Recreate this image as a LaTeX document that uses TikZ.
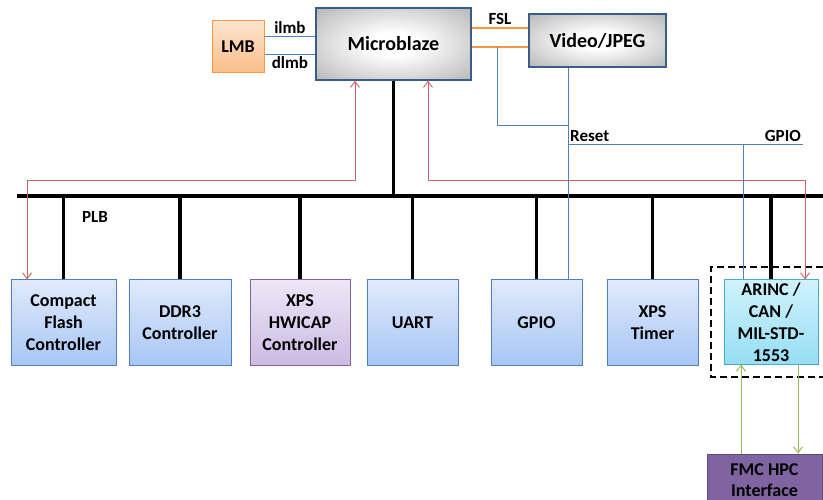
\documentclass[tikz,border=0pt]{standalone}
\usepackage{fontspec}
\setmainfont{Carlito}
\usetikzlibrary{arrows.meta}

\definecolor{ipline}{RGB}{79,129,189}
\definecolor{iptop}{RGB}{224,234,252}
\definecolor{ipbot}{RGB}{168,198,246}
\definecolor{hwline}{RGB}{128,100,162}
\definecolor{hwtop}{RGB}{238,230,248}
\definecolor{hwbot}{RGB}{204,186,226}
\definecolor{arline}{RGB}{75,172,198}
\definecolor{artop}{RGB}{208,242,252}
\definecolor{arbot}{RGB}{150,222,244}
\definecolor{lmbline}{RGB}{247,150,70}
\definecolor{lmbtop}{RGB}{253,228,206}
\definecolor{lmbbot}{RGB}{250,188,136}
\definecolor{cpuline}{RGB}{56,93,138}
\definecolor{sigblue}{RGB}{79,129,189}
\definecolor{ctlred}{RGB}{210,96,96}
\definecolor{lnkgreen}{RGB}{155,187,89}
\definecolor{fmcfill}{RGB}{128,100,162}
\definecolor{fmcline}{RGB}{96,74,123}

\pgfdeclareradialshading{cpushade}{\pgfpoint{0bp}{0bp}}{color(0bp)=(white);color(8bp)=(white);color(45bp)=(black!38);color(60bp)=(black!50);color(100bp)=(black!50)}

\begin{document}
\begin{tikzpicture}[x=1pt,y=-1pt,
  ip/.style={draw=ipline,line width=1pt,top color=iptop,bottom color=ipbot,
    minimum height=85,inner sep=0pt,align=center,
    font=\bfseries\fontsize{18}{22}\selectfont},
  cpu/.style={draw=cpuline,line width=1.4pt,shading=cpushade,inner sep=0pt,
    font=\bfseries\fontsize{20}{24}\selectfont},
  lbl/.style={font=\bfseries\fontsize{17}{20}\selectfont,inner sep=2pt},
  bus/.style={line width=4pt},
  drop/.style={line width=3.5pt},
  fsl/.style={draw=lmbline,line width=2.5pt},
  sig/.style={draw=sigblue,line width=0.9pt},
  ctl/.style={draw=ctlred,line width=0.9pt,{Straight Barb[length=6pt,width=9pt]}-{Straight Barb[length=6pt,width=9pt]}},
  lnk/.style={draw=lnkgreen,line width=1pt,-{Straight Barb[length=6pt,width=9pt]}}]
  \useasboundingbox (0,0) rectangle (823,500);

  % processor side
  \node [cpu,minimum width=155,minimum height=72] (mb) at (393.5,44) {Microblaze};
  \node [cpu,minimum width=137,minimum height=53] (video) at (597.5,40.5) {Video/JPEG};
  \node [draw=lmbline,line width=1pt,top color=lmbtop,bottom color=lmbbot,
    minimum width=52,minimum height=52,inner sep=0pt,
    font=\bfseries\fontsize{18}{22}\selectfont] (lmb) at (238,47) {LMB};

  \coordinate (ilmb) at (0,36);
  \coordinate (dlmb) at (0,54);
  \draw [sig] (lmb.east |- ilmb) -- node [lbl,above] {ilmb} (mb.west |- ilmb);
  \draw [sig] (lmb.east |- dlmb) -- node [lbl,below] {dlmb} (mb.west |- dlmb);

  \coordinate (fslA) at (0,28);
  \coordinate (fslB) at (0,47);
  \draw [fsl] (mb.east |- fslA) -- node [lbl,above,text=black] {FSL} (video.west |- fslA);
  \draw [fsl] (mb.east |- fslB) -- (video.west |- fslB);

  % peripherals
  \node [ip,minimum width=105] (cf)     at (63.5,322.5)  {Compact\\Flash\\Controller};
  \node [ip,minimum width=102] (ddr)    at (180,322.5)   {DDR3\\Controller};
  \node [ip,minimum width=100,draw=hwline,top color=hwtop,bottom color=hwbot]
                               (hwicap) at (300,322.5)   {XPS\\HWICAP\\Controller};
  \node [ip,minimum width=91]  (uart)   at (412.5,322.5) {UART};
  \node [ip,minimum width=91]  (gpio)   at (536.5,322.5) {GPIO};
  \node [ip,minimum width=91]  (timer)  at (652.5,322.5) {XPS\\Timer};
  \node [ip,minimum width=94,minimum height=84,draw=arline,top color=artop,bottom color=arbot]
                               (arinc)  at (771,322)     {ARINC /\\CAN /\\MIL-STD-\\1553};
  \node [draw=fmcline,line width=1pt,fill=fmcfill,minimum width=115,minimum height=52,
    inner sep=0pt,align=center,font=\bfseries\fontsize{18}{21}\selectfont] (fmc) at (764.5,480)
    {FMC HPC\\Interface};

  \draw [dashed,line width=2.5pt,dash pattern=on 7pt off 4pt] (823,267) -| (711,377) -- (823,377);

  % PLB bus
  \coordinate (busL) at (17,196);
  \coordinate (busR) at (823,196);
  \draw [bus] (busL) -- (busR);
  \node [lbl] (plb) at (95,217) {PLB};
  \draw [drop] (mb.south) -- (mb.south |- busL);
  \foreach \n in {cf,ddr,hwicap,uart,gpio,timer,arinc}
    \draw [drop] (\n.north) -- (\n.north |- busL);

  % reset / gpio wiring
  \coordinate (tap) at (497,47);
  \coordinate (join) at (568,125);
  \coordinate [label={[lbl]above right:Reset}] (rst) at (568,144);
  \coordinate [label={[lbl]above left:GPIO}] (gpioEnd) at (803,144);
  \coordinate (arincTap) at (743,144);
  \draw [sig] (tap) |- (join);
  \draw [sig] (video.south -| rst) -- (gpio.north -| rst);
  \draw [sig] (rst) -- (gpioEnd);
  \draw [sig] (arincTap) -- (arinc.north -| arincTap);

  % interrupt lines
  \coordinate (irqL) at (355,180);
  \coordinate (cfIn) at (27,180);
  \coordinate (irqR) at (428,180);
  \coordinate (arincIn) at (805,180);
  \draw [ctl] (mb.south -| irqL) |- (cfIn) -- (cf.north -| cfIn);
  \draw [ctl] (mb.south -| irqR) |- (arincIn) -- (arinc.north -| arincIn);

  % FMC links
  \coordinate (rx) at (741,0);
  \coordinate (tx) at (798,0);
  \draw [lnk] (fmc.north -| rx) -- (arinc.south -| rx);
  \draw [lnk] (arinc.south -| tx) -- (fmc.north -| tx);
\end{tikzpicture}
\end{document}
